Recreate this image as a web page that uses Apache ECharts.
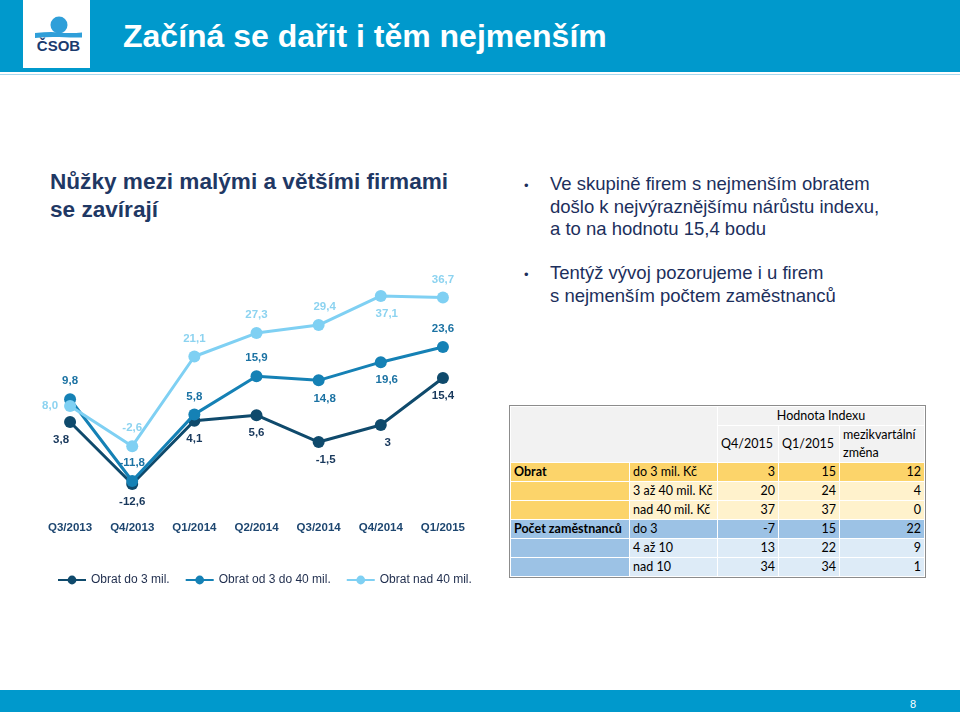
<!DOCTYPE html>
<html>
<head>
<meta charset="utf-8">
<script src="https://cdn.jsdelivr.net/npm/echarts@6/dist/echarts.min.js"></script>
<style>
  html, body { margin:0; padding:0; width:960px; height:712px; overflow:hidden; background:#fff; }
  body { position:relative; font-family:"Liberation Sans", Arial, sans-serif; }
  .hdr { position:absolute; left:0; top:0; width:960px; height:72px; background:#0099cc; }
  .hdrline { position:absolute; left:0; top:74px; width:960px; height:1px; background:#a8d8ee; }
  .logo { position:absolute; left:23px; top:0; width:67px; height:68px; background:#fff; }
  .htitle { position:absolute; left:123px; top:17px; color:#fff; font-size:32px; font-weight:bold; white-space:nowrap; line-height:38px; }
  .ctitle { position:absolute; left:50px; top:168px; color:#1f3864; font-size:22.6px; font-weight:bold; line-height:28px; white-space:nowrap; }
  .bul { position:absolute; left:524px; color:#1c2f5c; font-size:18.5px; line-height:22.5px; white-space:nowrap; }
  .bul .dot { position:absolute; left:0; top:0; font-size:13px; }
  .bul .txt { position:absolute; left:26px; top:0; }
  .foot { position:absolute; left:0; top:690px; width:960px; height:22px; background:#0099cc; }
  .pnum { position:absolute; left:910px; top:698px; color:#fff; font-size:11px; }
  #chart { position:absolute; left:0; top:0; width:500px; height:712px; }
  table.t { position:absolute; left:510px; top:406px; border-collapse:collapse; font-family:Lato, "Open Sans", sans-serif; font-size:12.5px; color:#000; table-layout:fixed; }
  table.t td { border:1px solid #fff; padding:0 3px; height:18px; line-height:18px; white-space:nowrap; overflow:hidden; }
  table.t { outline:1px solid #8c8c8c; }
  .hg { background:#f2f2f2; }
  .num { text-align:right; }
</style>
</head>
<body>
<div class="hdr"></div>
<div class="hdrline"></div>
<div class="logo">
  <svg width="67" height="68" viewBox="0 0 67 68">
    <circle cx="36" cy="25" r="8.5" fill="#2f9fd9"/>
    <path d="M12 33 Q 28 31.5 36 32.5 Q 47 33.5 59 32.5 L 59 37.5 Q 47 37.5 36 37 Q 24 36.5 12 38 Z" fill="#2f9fd9"/>
    <text x="35.5" y="50.5" text-anchor="middle" font-family="Liberation Sans, Arial" font-weight="bold" font-size="15" fill="#1a3b6e">ČSOB</text>
  </svg>
</div>
<div class="htitle">Začíná se dařit i těm nejmenším</div>
<div class="ctitle">Nůžky mezi malými a většími firmami<br>se zavírají</div>
<div class="bul" style="top:173px;"><span class="dot" style="top:2px">•</span><span class="txt">Ve skupině firem s nejmenším obratem<br>došlo k nejvýraznějšímu nárůstu indexu,<br>a to na hodnotu 15,4 bodu</span></div>
<div class="bul" style="top:262px;"><span class="dot" style="top:2px">•</span><span class="txt">Tentýž vývoj pozorujeme i u firem<br>s nejmenším počtem zaměstnanců</span></div>
<div id="chart"></div>
<table class="t" id="tbl"></table>
<div class="foot"></div>
<div class="pnum">8</div>
<script>
// ---- chart data ----
const categories = ['Q3/2013','Q4/2013','Q1/2014','Q2/2014','Q3/2014','Q4/2014','Q1/2015'];
const seriesNames = ['Obrat do 3 mil.','Obrat od 3 do 40 mil.','Obrat nad 40 mil.'];
const turnoverSmall = [3.8, -12.6, 4.1, 5.6, -1.5, 3, 15.4];
const turnoverMid = [9.8, -11.8, 5.8, 15.9, 14.8, 19.6, 23.6];
const turnoverLarge = [8.0, -2.6, 21.1, 27.3, 29.4, 37.1, 36.7];

// ---- table data ----
const tableGroups = ['Obrat','','','Počet zaměstnanců','',''];
const tableSub = ['do 3 mil. Kč','3 až 40 mil. Kč','nad 40 mil. Kč','do 3','4 až 10','nad 10'];
const tableQ4 = [3, 20, 37, -7, 13, 34];
const tableQ1 = [15, 24, 37, 15, 22, 34];
const tableChange = [12, 4, 0, 22, 9, 1];
const tableHeadTop = 'Hodnota Indexu';
const tableHeadCols = ['Q4/2015','Q1/2015','mezikvartální změna'];

// ---- label placement (style) ----
const posSmall = ['bottom','bottom','bottom','bottom','bottom','bottom','bottom'];
const posMid = ['top','top','top','top','bottom','bottom','top'];
const posLarge = ['left','top','top','top','top','bottom','top'];

const colors = ['#0f4a6c', '#1581b5', '#7fd0f3'];
const labelColors = ['#18385c', '#1b72a3', '#8cd3f0'];

function fmtComma(v, fixed) {
  return (fixed ? v.toFixed(1) : String(v)).replace('.', ',');
}
function mk(idx, values, pos, fixed) {
  return {
    name: seriesNames[idx], type: 'line',
    data: values.map((v, i) => {
      const lab = { position: pos[i] };
      if (idx === 0 && i === 0) lab.offset = [-9, 0];
      if (idx === 0 && (i === 4 || i === 5)) lab.offset = [7, 0];
      if (idx === 1 && (i === 4 || i === 5)) lab.offset = [6, 0];
      if (idx === 2 && (i === 4 || i === 5)) lab.offset = [6, 0];
      return { value: v, label: lab };
    }),
    symbol: 'circle', symbolSize: 12,
    lineStyle: { width: 3, color: colors[idx] },
    itemStyle: { color: colors[idx] },
    label: {
      show: true, distance: 6, color: labelColors[idx],
      fontSize: 11.5, fontWeight: 'bold', fontFamily: 'Liberation Sans, Arial',
      formatter: p => fmtComma(p.value, fixed)
    },
    emphasis: { disabled: true },
    z: 2 + idx
  };
}

const chart = echarts.init(document.getElementById('chart'), null, { renderer: 'canvas' });
chart.setOption({
  animation: false,
  backgroundColor: 'transparent',
  grid: { left: 39, width: 435, top: 285, height: 227 },
  xAxis: {
    type: 'category', data: categories, boundaryGap: true,
    axisLine: { show: false }, axisTick: { show: false },
    axisLabel: { margin: 10, color: '#1d4670', fontSize: 11.5, fontWeight: 'bold', fontFamily: 'Liberation Sans, Arial' }
  },
  yAxis: { type: 'value', min: -20, max: 40, show: false, splitLine: { show: false } },
  legend: {
    left: 52, top: 569, itemWidth: 28, itemHeight: 11, itemGap: 15,
    textStyle: { color: '#1f2d4d', fontSize: 12, fontFamily: 'Liberation Sans, Arial' },
    data: seriesNames
  },
  series: [
    mk(0, turnoverSmall, posSmall, false),
    mk(1, turnoverMid, posMid, true),
    mk(2, turnoverLarge, posLarge, true)
  ]
});

// ---- table ----
const tbl = document.getElementById('tbl');
const colW = [119, 88, 61, 61, 85];
let html = '<colgroup>' + colW.map(w => '<col style="width:' + w + 'px">').join('') + '</colgroup>';
html += '<tr><td class="hg" colspan="2" rowspan="2"></td><td class="hg" colspan="3" style="text-align:center;height:18px">' + tableHeadTop + '</td></tr>';
html += '<tr>' + tableHeadCols.map((c, i) => '<td class="hg" style="height:36px;' + (i === 2 ? 'white-space:normal;line-height:18px;' : '') + '">' + c + '</td>').join('') + '</tr>';
tableSub.forEach((s, i) => {
  const isTurn = i < 3;
  const first = i % 3 === 0;
  const lab = isTurn ? '#fcd46a' : '#9cc2e5';
  const val = first ? lab : (isTurn ? '#fff2cc' : '#ddebf7');
  html += '<tr>' +
    '<td style="background:' + lab + ';font-weight:bold">' + tableGroups[i] + '</td>' +
    '<td style="background:' + val + '">' + s + '</td>' +
    '<td class="num" style="background:' + val + '">' + tableQ4[i] + '</td>' +
    '<td class="num" style="background:' + val + '">' + tableQ1[i] + '</td>' +
    '<td class="num" style="background:' + val + '">' + tableChange[i] + '</td></tr>';
});
tbl.innerHTML = html;
</script>
</body>
</html>
